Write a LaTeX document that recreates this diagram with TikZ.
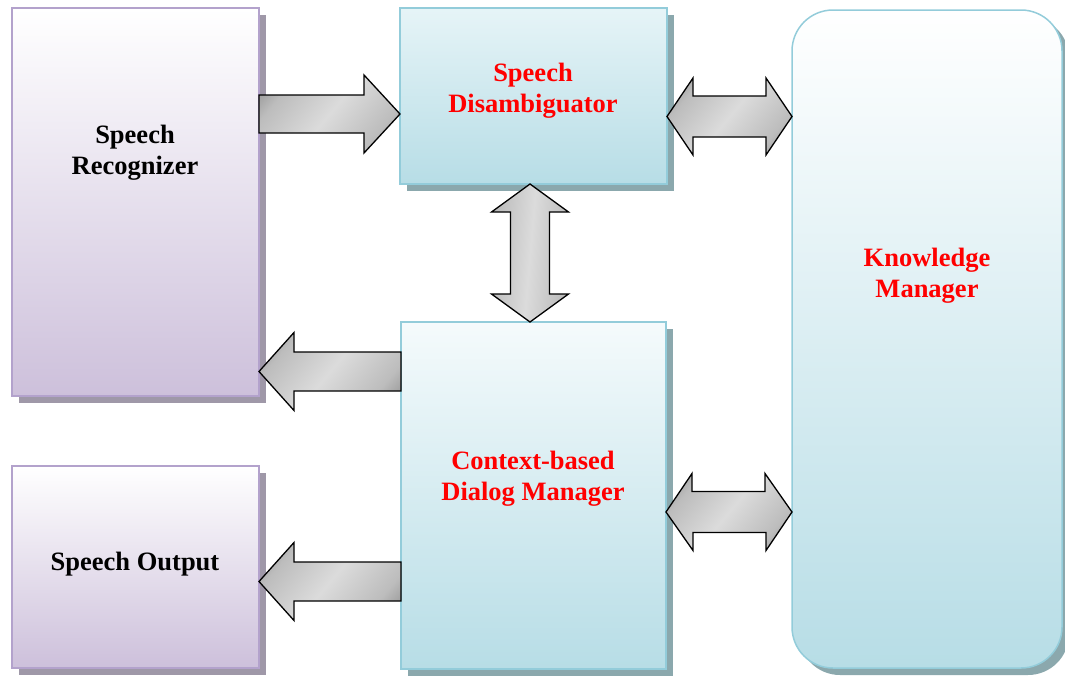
\documentclass[tikz,border=0pt]{standalone}
\usepackage{fontspec}
\setmainfont{Liberation Serif}
\usetikzlibrary{shadows,calc}
\definecolor{pbord}{HTML}{B3A2CC}
\definecolor{pfill}{HTML}{CDC0DB}
\definecolor{pshad}{HTML}{9F98A8}
\definecolor{bbord}{HTML}{93CCDA}
\definecolor{bfill}{HTML}{B7DDE6}
\definecolor{btop}{HTML}{E6F4F7}
\definecolor{bshad}{HTML}{8BA8AD}
\definecolor{txtred}{HTML}{FF0000}
\pgfdeclarehorizontalshading{arrowsh}{100bp}{%
  color(0bp)=(black!55); color(12bp)=(black!50); color(28bp)=(black!26);
  color(50bp)=(black!14); color(72bp)=(black!26); color(88bp)=(black!50);
  color(100bp)=(black!55)}
\begin{document}
\begin{tikzpicture}[x=1pt,y=-1pt,
  box/.style={rectangle, line width=1.5pt, outer sep=0pt, inner sep=0pt},
  pbox/.style={box, draw=pbord, top color=white, bottom color=pfill,
    drop shadow={shadow xshift=7pt, shadow yshift=-7pt, fill=pshad, opacity=1}},
  bbox/.style={box, draw=bbord, top color=btop, bottom color=bfill,
    drop shadow={shadow xshift=7pt, shadow yshift=-7pt, fill=bshad, opacity=1}},
  lbl/.style={font=\fontsize{26.5}{31}\selectfont\bfseries, align=center, inner sep=0pt},
  barrow/.style={draw=black, line width=1.3pt, line join=miter,
    shading=arrowsh, shading angle=-40},
  varrow/.style={barrow, shading angle=-5}
]
\useasboundingbox (0,0) rectangle (1065,675);

% boxes
\node[pbox, minimum width=247pt, minimum height=388pt] (rec) at (135.5,202) {};
\node[pbox, minimum width=247pt, minimum height=202pt] (out) at (135.5,567) {};
\node[bbox, minimum width=267pt, minimum height=176pt] (dis) at (533.5,96) {};
\node[bbox, top color=btop!40!white, minimum width=265pt, minimum height=347pt] (dlg) at (533.5,495.5) {};
\node[bbox, top color=white, rounded corners=41pt, minimum width=270pt, minimum height=658pt] (km) at (927,339) {};

% labels
\node[lbl] (recT) at (135,153) {Speech\\Recognizer};
\node[lbl] (outT) at (135,564) {Speech Output};
\node[lbl, text=txtred] (disT) at (533,91) {Speech\\Disambiguator};
\node[lbl, text=txtred] (dlgT) at (533,479) {Context-based\\Dialog Manager};
\node[lbl, text=txtred] (kmT) at (927,276) {Knowledge\\Manager};

% arrow end points
\coordinate (a1s) at (rec.east |- 0,114);
\coordinate (a1t) at (dis.west |- 0,114);
\coordinate (a4s) at (dlg.west |- 0,371.5);
\coordinate (a4t) at (rec.east |- 0,371.5);
\coordinate (a6s) at (dlg.west |- 0,581.5);
\coordinate (a6t) at (out.east |- 0,581.5);
\coordinate (a2l) at (dis.east |- 0,116.5);
\coordinate (a2r) at (km.west |- 0,116.5);
\coordinate (a5l) at (dlg.east |- 0,512);
\coordinate (a5r) at (km.west |- 0,512);
\coordinate (a3t) at (dis.south -| 530,0);
\coordinate (a3b) at (dlg.north -| 530,0);

% single arrows
\draw[barrow] (a1s) ++(0,-19) -- ++(105,0) -- ++(0,-20) -- (a1t) -- ++(-36,39) -- ++(0,-20) -- ++(-105,0) -- cycle;
\draw[barrow] (a4s) ++(0,-19.5) -- ++(-107,0) -- ++(0,-19.5) -- (a4t) -- ++(35,39) -- ++(0,-19.5) -- ++(107,0) -- cycle;
\draw[barrow] (a6s) ++(0,-19.5) -- ++(-107,0) -- ++(0,-19.5) -- (a6t) -- ++(35,39) -- ++(0,-19.5) -- ++(107,0) -- cycle;

% double arrows
\draw[barrow] (a2l) -- ++(26,-38.5) -- ++(0,18) -- ++(73,0) -- ++(0,-18) -- (a2r) -- ++(-26,38.5) -- ++(0,-18) -- ++(-73,0) -- ++(0,18) -- cycle;
\draw[barrow] (a5l) -- ++(26,-38.5) -- ++(0,18) -- ++(73,0) -- ++(0,-18) -- (a5r) -- ++(-26,38.5) -- ++(0,-18) -- ++(-73,0) -- ++(0,18) -- cycle;
\draw[varrow] (a3t) -- ++(38.5,28) -- ++(-19,0) -- ++(0,82) -- ++(19,0) -- (a3b) -- ++(-38.5,-28) -- ++(19,0) -- ++(0,-82) -- ++(-19,0) -- cycle;
\end{tikzpicture}
\end{document}
